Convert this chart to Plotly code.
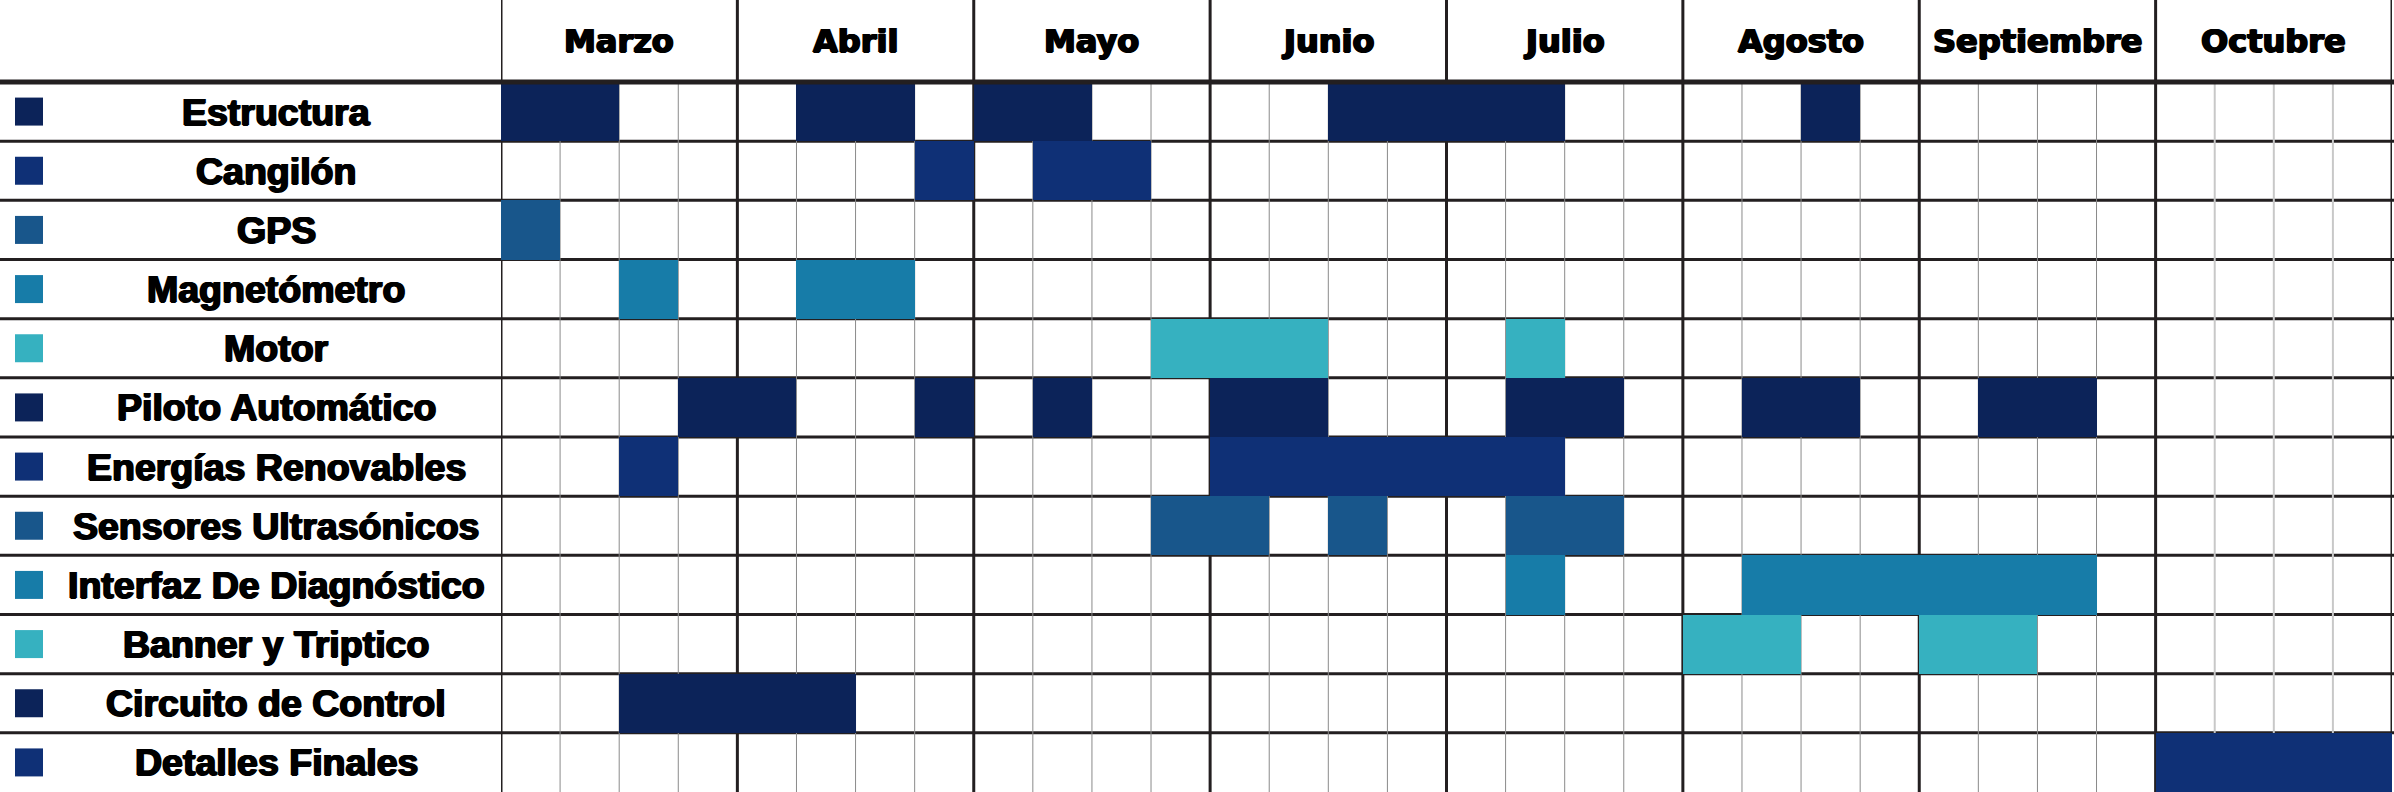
import plotly.graph_objects as go

# ---------------- data ----------------
months = ["Marzo", "Abril", "Mayo", "Junio", "Julio", "Agosto", "Septiembre", "Octubre"]
weeks_per_month = 4

tasks = ["Estructura", "Cangilón", "GPS", "Magnetómetro", "Motor", "Piloto Automático",
         "Energías Renovables", "Sensores Ultrasónicos", "Interfaz De Diagnóstico",
         "Banner y Triptico", "Circuito de Control", "Detalles Finales"]
task_colors = ["#0c2359", "#0f3076", "#18568b", "#177ca8", "#36b1c0", "#0c2359",
               "#0f3076", "#18568b", "#177ca8", "#36b1c0", "#0c2359", "#0f3076"]

# each activity block: task index, start week (0 = 1st week of Marzo), length in weeks
bar_task  = [0, 0, 0, 0, 0,   1, 1,   2,   3, 3,   4, 4,
             5, 5, 5, 5, 5, 5, 5,   6, 6,   7, 7, 7,   8, 8,   9, 9,   10,   11]
bar_start = [0, 5, 8, 14, 22,  7, 9,   0,   2, 5,   11, 17,
             3, 7, 9, 12, 17, 21, 25,   2, 12,   11, 14, 17,   17, 21,   20, 24,   2,   28]
bar_len   = [2, 2, 2, 4, 1,   1, 2,   1,   1, 2,   3, 1,
             2, 1, 1, 2, 2, 2, 2,   1, 6,   2, 1, 2,   1, 6,   2, 2,   4,   4]

# ---------------- geometry ----------------
W, H = 2394, 792
label_col_px = 501
header_px = 82
n_rows = len(tasks)
n_weeks = len(months) * weeks_per_month
row_px = (H - header_px) / n_rows
y_top = -0.5 - header_px / row_px
y_bot = n_rows - 0.5

fig = go.Figure()

# Gantt blocks
fig.add_trace(go.Bar(
    y=bar_task, base=bar_start, x=bar_len, orientation="h", width=1,
    marker=dict(color=[task_colors[t] for t in bar_task], line=dict(width=0)),
    hoverinfo="skip", showlegend=False, xaxis="x", yaxis="y",
))

# colour squares in the label column
fig.add_trace(go.Scatter(
    x=[29] * n_rows, y=list(range(n_rows)), mode="markers",
    marker=dict(symbol="square", size=28, color=task_colors, line=dict(width=0)),
    hoverinfo="skip", showlegend=False, xaxis="x2", yaxis="y", cliponaxis=False,
))

shapes = []
dark = "#231f20"
# week lines
for k in range(1, n_weeks):
    if k % weeks_per_month == 0:
        continue
    in_last = k > (len(months) - 1) * weeks_per_month
    shapes.append(dict(type="line", xref="x", yref="y", x0=k, x1=k, y0=-0.5, y1=y_bot,
                       line=dict(color="#c8c8c8" if in_last else "#8a8a8a",
                                 width=2 if in_last else 1), layer="below"))
# month lines (full height, through header)
for m in range(len(months) + 1):
    xk = m * weeks_per_month
    shapes.append(dict(type="line", xref="x", yref="y", x0=xk, x1=xk, y0=y_top, y1=y_bot,
                       line=dict(color=dark, width=3), layer="below"))
# row separators
for r in range(n_rows - 1):
    yy = r + 0.5
    shapes.append(dict(type="line", xref="paper", yref="y", x0=0, x1=1, y0=yy, y1=yy,
                       line=dict(color=dark, width=3), layer="below"))
# header bottom line
shapes.append(dict(type="line", xref="paper", yref="y", x0=0, x1=1, y0=-0.5, y1=-0.5,
                   line=dict(color=dark, width=5), layer="above"))

heavy = "1px 0 0 black, -1px 0 0 black, 0 0.7px 0 black, 0 -0.5px 0 black"
annotations = []
for i, t in enumerate(tasks):
    annotations.append(dict(x=276, y=i, xref="x2", yref="y", text=f"<b>{t}</b>",
                            showarrow=False, xanchor="center", yanchor="middle",
                            font=dict(family="Liberation Sans, Arial, sans-serif",
                                      size=37.5, color="black", shadow=heavy)))
for m, name in enumerate(months):
    annotations.append(dict(x=m * weeks_per_month + weeks_per_month / 2,
                            y=(y_top - 0.5) / 2, xref="x", yref="y",
                            text=f"<b>{name}</b>", showarrow=False,
                            xanchor="center", yanchor="middle",
                            font=dict(family="DejaVu Sans, sans-serif", size=32,
                                      color="black", shadow=heavy)))

fig.update_layout(
    width=W, height=H,
    margin=dict(l=0, r=0, t=0, b=0, pad=0),
    paper_bgcolor="white", plot_bgcolor="white",
    xaxis=dict(domain=[label_col_px / W, 2392 / W], range=[0, n_weeks],
               showgrid=False, zeroline=False, showticklabels=False, ticks="", fixedrange=True),
    xaxis2=dict(domain=[0, label_col_px / W], range=[0, label_col_px], anchor="y",
                showgrid=False, zeroline=False, showticklabels=False, ticks="", fixedrange=True),
    yaxis=dict(range=[y_bot, y_top], showgrid=False, zeroline=False,
               showticklabels=False, ticks="", fixedrange=True),
    shapes=shapes, annotations=annotations, bargap=0,
)

fig.write_html("out.html", config={"displayModeBar": False},
               post_script="document.body.style.margin='0';document.body.style.overflow='hidden';")
